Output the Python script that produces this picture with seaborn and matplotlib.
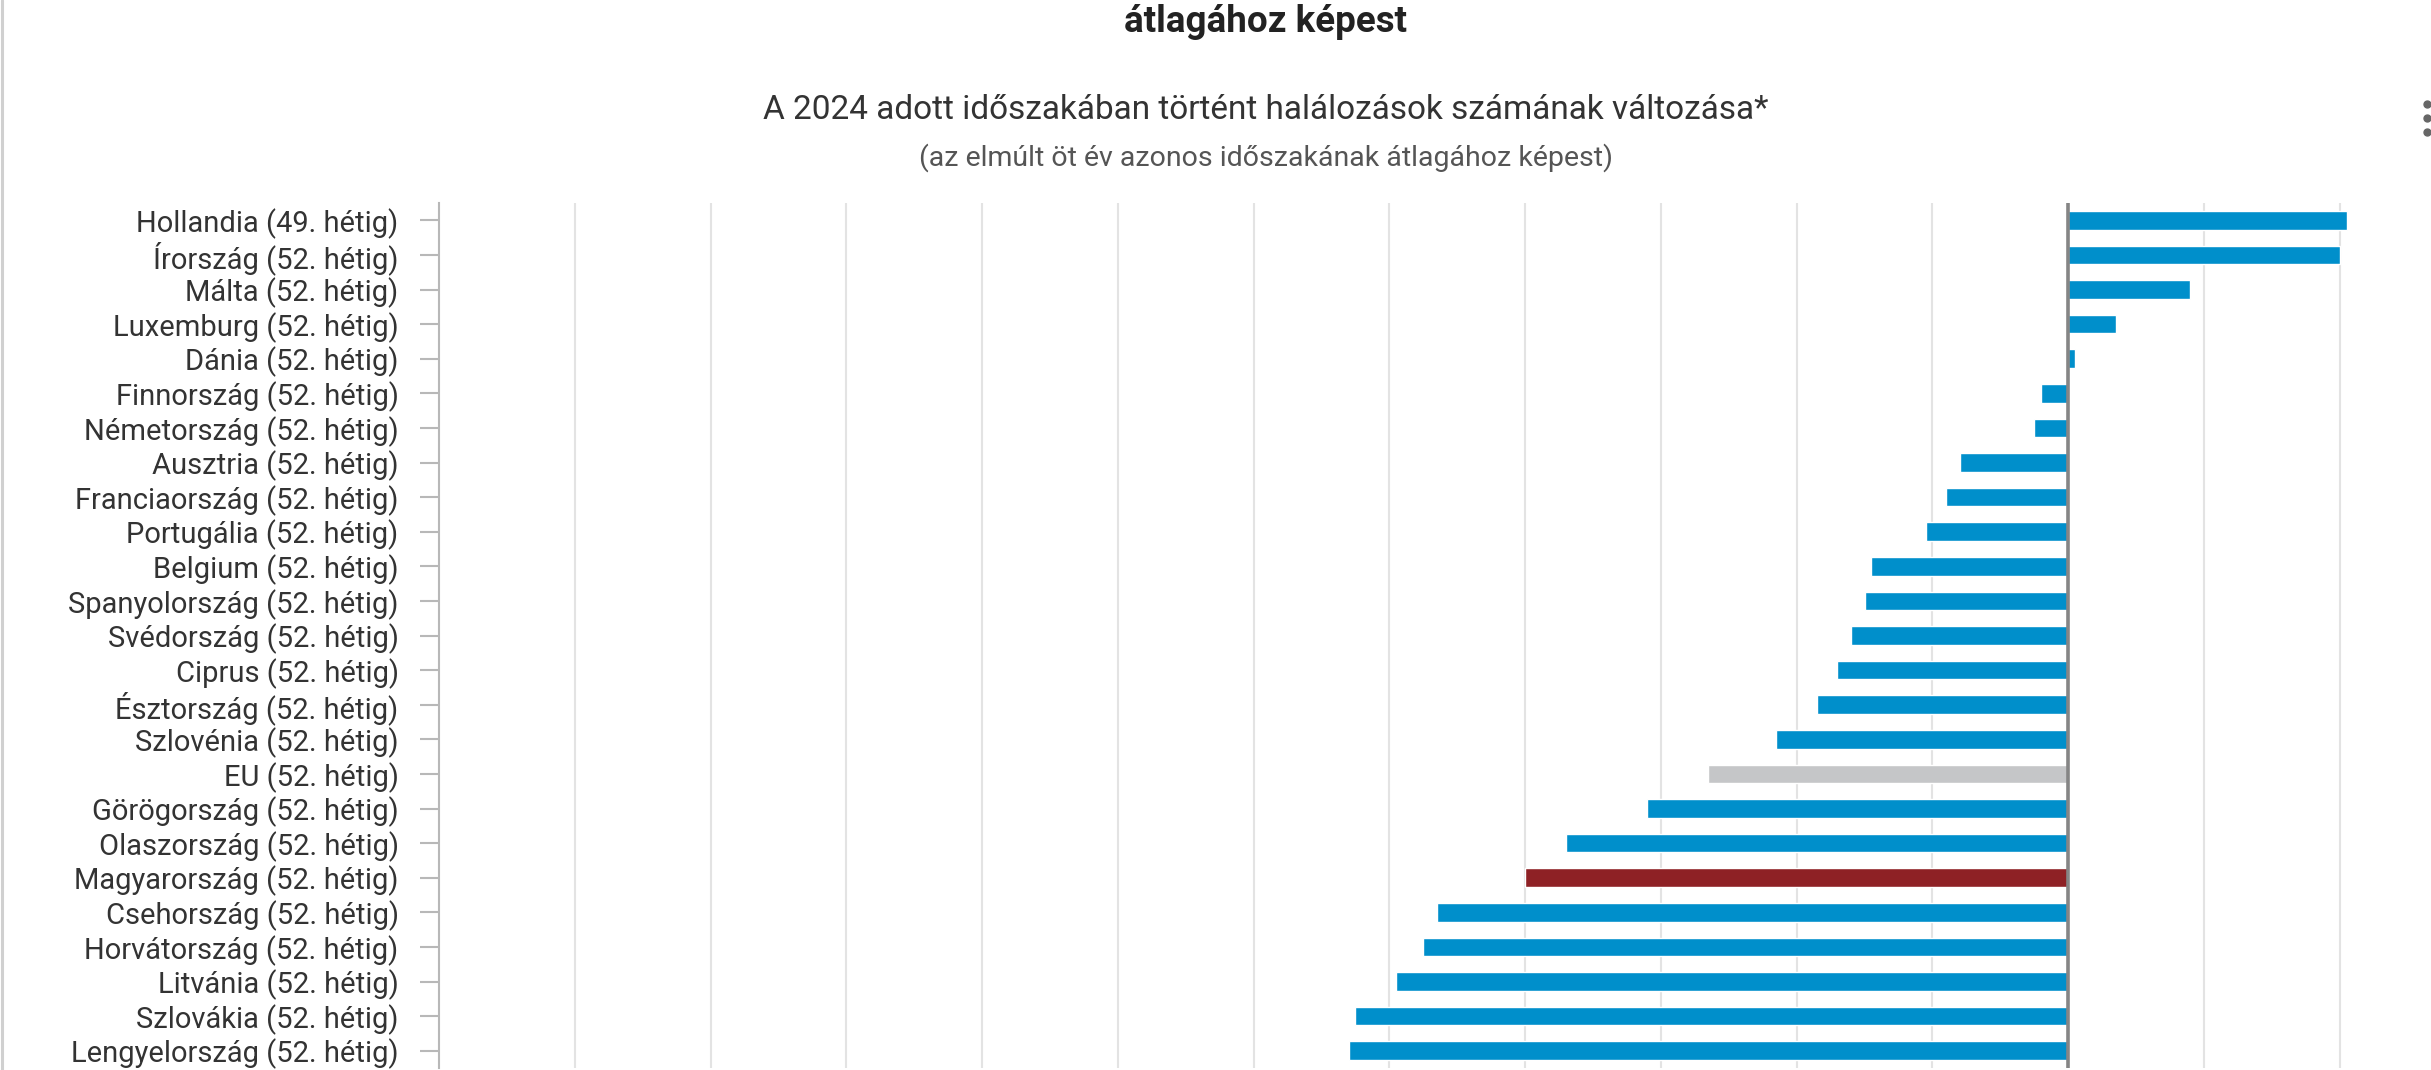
import matplotlib
matplotlib.use("Agg")
import matplotlib.pyplot as plt
from matplotlib.lines import Line2D
import seaborn as sns
import pandas as pd

# Change in number of deaths in 2024 versus the previous five-year average (%)
countries = [
    "Hollandia (49. hétig)", "Írország (52. hétig)", "Málta (52. hétig)",
    "Luxemburg (52. hétig)", "Dánia (52. hétig)", "Finnország (52. hétig)",
    "Németország (52. hétig)", "Ausztria (52. hétig)", "Franciaország (52. hétig)",
    "Portugália (52. hétig)", "Belgium (52. hétig)", "Spanyolország (52. hétig)",
    "Svédország (52. hétig)", "Ciprus (52. hétig)", "Észtország (52. hétig)",
    "Szlovénia (52. hétig)", "EU (52. hétig)", "Görögország (52. hétig)",
    "Olaszország (52. hétig)", "Magyarország (52. hétig)", "Csehország (52. hétig)",
    "Horvátország (52. hétig)", "Litvánia (52. hétig)", "Szlovákia (52. hétig)",
    "Lengyelország (52. hétig)",
]
changes = [4.1, 4.0, 1.8, 0.7, 0.1, -0.4, -0.5, -1.6, -1.8, -2.1, -2.9, -3.0,
           -3.2, -3.4, -3.7, -4.3, -5.3, -6.2, -7.4, -8.0, -9.3, -9.5, -9.9,
           -10.5, -10.6]
grid_ticks = [-24, -22, -20, -18, -16, -14, -12, -10, -8, -6, -4, -2, 0, 2, 4]

title_text = "átlagához képest"
subtitle_text = "A 2024 adott időszakában történt halálozások számának változása*"
subsubtitle_text = "(az elmúlt öt év azonos időszakának átlagához képest)"

BLUE = "#008fcb"
RED = "#8e2125"
GREY = "#c5c6c8"
colors = {c: BLUE for c in countries}
colors["EU (52. hétig)"] = GREY
colors["Magyarország (52. hétig)"] = RED

df = pd.DataFrame({"orszag": countries, "valtozas": changes})

sns.set_theme(style="white")
plt.rcParams["font.family"] = ["Roboto", "DejaVu Sans"]

W, H = 2431, 1070
fig = plt.figure(figsize=(W / 100, H / 100), dpi=100)
fig.patch.set_facecolor("white")

left_px, right_px = 439, 2350
top_px, bottom_px = 203, 1068
ax = fig.add_axes([left_px / W, 1 - bottom_px / H,
                   (right_px - left_px) / W, (bottom_px - top_px) / H])

sns.barplot(data=df, x="valtozas", y="orszag", hue="orszag", palette=colors,
            order=countries, orient="h", width=0.54, legend=False,
            saturation=1, ax=ax, zorder=3)

ax.set_xlim(-24, 4.15)
ax.set_ylim(24.5, -0.5)
ax.set_xticks(grid_ticks)
ax.set_xticklabels([])
ax.tick_params(axis="x", length=0)
for t in grid_ticks:
    if t not in (-24, 0):
        ax.axvline(t, color="#e3e3e3", lw=1.5, zorder=1)
ax.axvline(0, color="#858585", lw=2.6, zorder=4)

for side in ("top", "right", "bottom"):
    ax.spines[side].set_visible(False)
ax.spines["left"].set_color("#b8b8b8")
ax.spines["left"].set_linewidth(1.5)

ax.tick_params(axis="y", left=True, length=14, width=1.5, color="#b8b8b8",
               pad=15, labelsize=21, labelcolor="#333333")
ax.set_xlabel("")
ax.set_ylabel("")
ax.grid(False)

# titles
cx = 1266 / W
fig.text(cx, 1 - 22 / H, title_text, ha="center", va="center",
         fontsize=26.5, fontweight="bold", color="#222222")
fig.text(cx, 1 - 110 / H, subtitle_text, ha="center", va="center",
         fontsize=24, color="#333333")
fig.text(cx, 1 - 158 / H, subsubtitle_text, ha="center", va="center",
         fontsize=20.5, color="#555555")

# context menu button (three dots)
dot_x = 2427 / W
fig.add_artist(Line2D([dot_x] * 3, [1 - 104 / H, 1 - 118 / H, 1 - 132 / H],
                      transform=fig.transFigure, linestyle="none",
                      marker="o", markersize=5, color="#666666"))

# frame border on the left
fig.add_artist(Line2D([1.5 / W, 1.5 / W], [0, 1], transform=fig.transFigure,
                      color="#d0d0d0", lw=2.2))

fig.savefig("out.png", dpi=100, facecolor="white")
